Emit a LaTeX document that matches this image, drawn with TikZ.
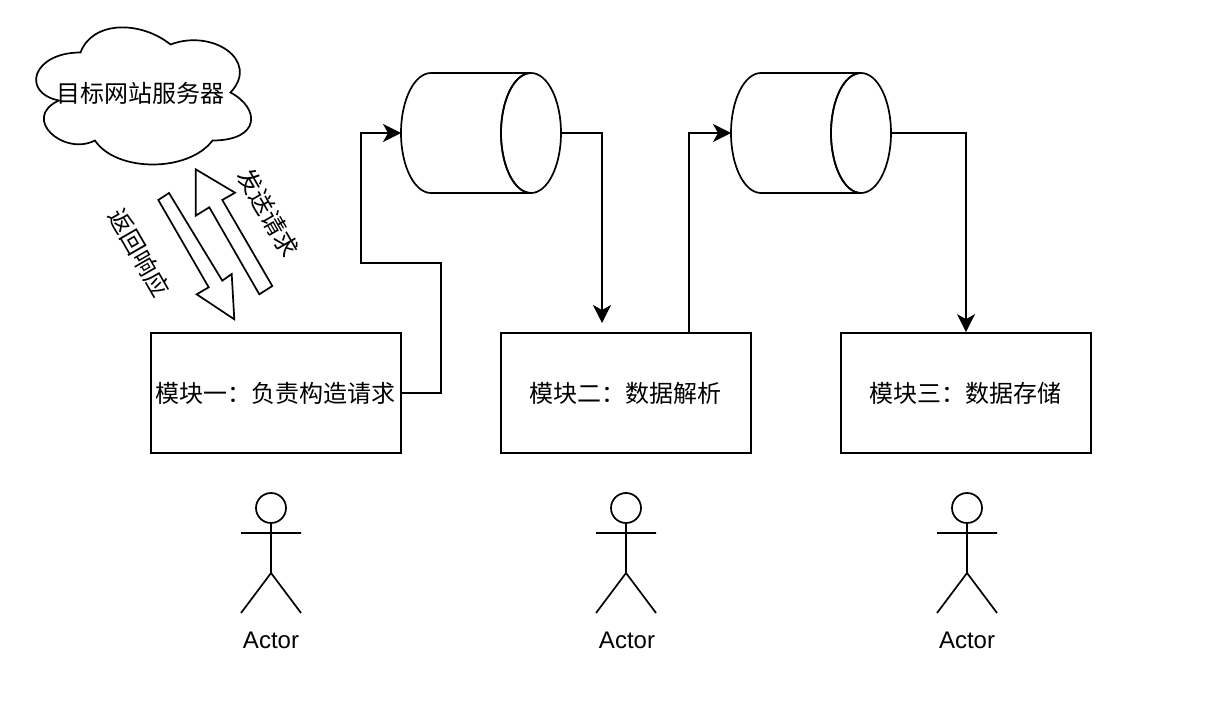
\documentclass[tikz,border=0pt]{standalone}
\usepackage{fontspec}
\setmainfont{Liberation Sans}
\newfontfamily\cjk{Noto Sans CJK SC}
\usetikzlibrary{arrows.meta}
\tikzset{
  ln/.style={line width=1.7pt,draw=black,line join=miter},
  box/.style={ln,rectangle,minimum width=250pt,minimum height=120pt,inner sep=0pt,font=\fontsize{24}{28}\selectfont\cjk},
  lbl/.style={inner sep=0pt,font=\fontsize{24}{28}\selectfont\cjk},
  actorlbl/.style={inner sep=0pt,font=\fontsize{24}{28}\selectfont},
  conn/.style={ln,-{Stealth[length=18pt,width=18pt,inset=5pt]}}
}
\newcommand{\cylshape}[2]{%
  \draw[ln] (#1+30,#2-60) -- (#1+130,#2-60) arc[start angle=90,end angle=270,x radius=30,y radius=-60] -- (#1+30,#2+60) arc[start angle=270,end angle=90,x radius=30,y radius=-60] -- cycle;
  \draw[ln] (#1+130,#2) ellipse[x radius=30,y radius=60];
}
\newcommand{\stickman}[2]{%
  \draw[ln] (#1,#2) circle[radius=15];
  \draw[ln] (#1,#2+15) -- (#1,#2+65) (#1-30,#2+25) -- (#1+30,#2+25) (#1-30,#2+105) -- (#1,#2+65) -- (#1+30,#2+105);
}
\begin{document}
\begin{tikzpicture}[x=1pt,y=-1pt]
\useasboundingbox (0,0) rectangle (1229,719);
% cloud
\draw[ln] (80.5,52.5)
  .. controls (32.5,52.5) and (20.5,92.5) .. (58.9,100.5)
  .. controls (20.5,118.1) and (63.7,156.5) .. (94.9,140.5)
  .. controls (116.5,172.5) and (188.5,172.5) .. (212.5,140.5)
  .. controls (260.5,140.5) and (260.5,108.5) .. (230.5,92.5)
  .. controls (260.5,60.5) and (212.5,28.5) .. (170.5,44.5)
  .. controls (140.5,20.5) and (92.5,20.5) .. (80.5,52.5) -- cycle;
\node[lbl] (cloudtext) at (140.5,93) {目标网站服务器};
% block arrows
\draw[ln] (195.7,169.3) -- (235,192.7) -- (222.3,200) -- (272.3,286) -- (259.3,294.3) -- (209.3,207.3) -- (195.7,215.7) -- cycle;
\draw[ln] (158.3,200) -- (169,193) -- (222.3,280.7) -- (231.7,274) -- (234.3,319.3) -- (196.7,294.3) -- (208.7,287.3) -- cycle;
\node[lbl,rotate=-60] (send) at (268,213) {发送请求};
\node[lbl,rotate=-60] (recv) at (139,253) {返回响应};
% cylinders
\cylshape{401}{133}
\cylshape{731}{133}
\coordinate (cylA-w) at (401,133);
\coordinate (cylA-e) at (561,133);
\coordinate (cylB-w) at (731,133);
\coordinate (cylB-e) at (891,133);
% boxes
\node[box] (m1) at (276,393) {\hspace{-2pt}模块一：负责构造请求};
\node[box] (m2) at (626,393) {\hspace{-2pt}模块二：数据解析};
\node[box] (m3) at (966,393) {\hspace{-2pt}模块三：数据存储};
\coordinate (free) at (602,323);
% connectors
\draw[conn] (m1.east) -- (441,393) -- (441,263) -- (361,263) -- (361,133) -- (cylA-w);
\draw[conn] (cylA-e) -- (602,133) -- (free);
\draw[conn] (689,333) -- (689,133) -- (cylB-w);
\draw[conn] (cylB-e) -- (966,133) -- (m3.north);
% actors
\stickman{271}{508}
\stickman{626}{508}
\stickman{967}{508}
\node[actorlbl] (a1) at (271,640) {Actor};
\node[actorlbl] (a2) at (627,640) {Actor};
\node[actorlbl] (a3) at (967,640) {Actor};
\end{tikzpicture}
\end{document}
